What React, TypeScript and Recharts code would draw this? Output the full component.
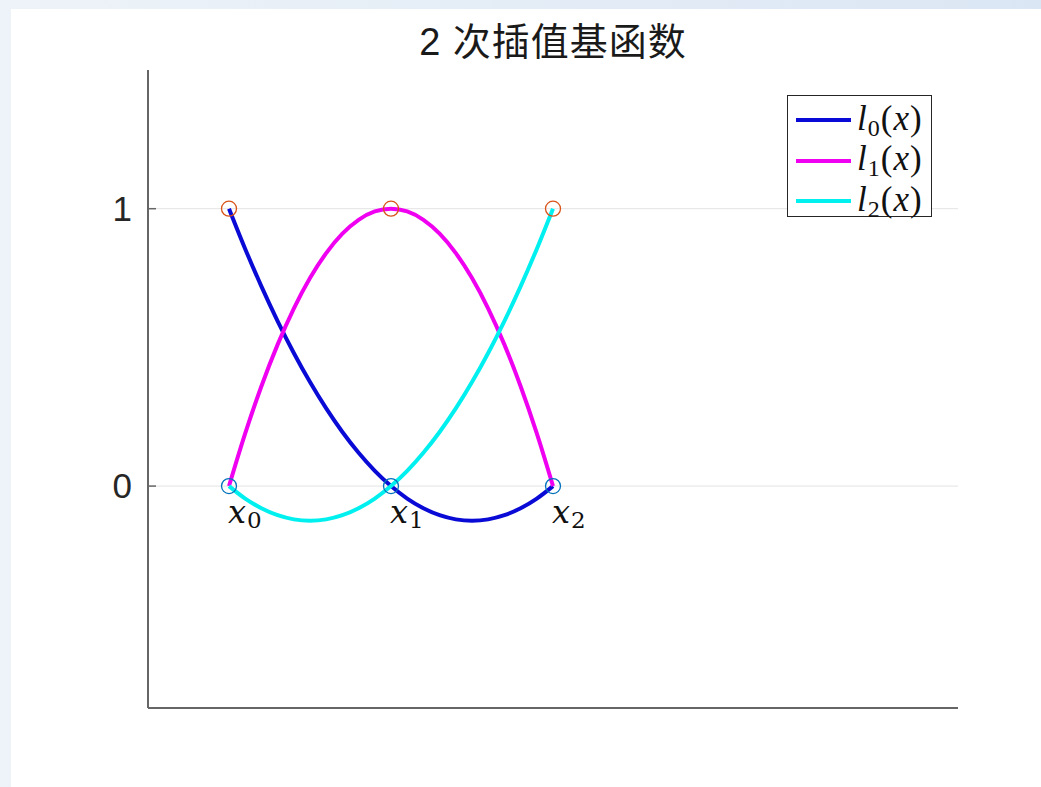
import React from 'react'
import {
  ComposedChart,
  Line,
  Scatter,
  XAxis,
  YAxis,
  CartesianGrid,
} from 'recharts'

// 插值节点
const nodeX = [0, 1, 2]
const nodeNames = ['0', '1', '2']

// 采样点（步长 0.1）
const sampleX = [
  0, 0.1, 0.2, 0.3, 0.4, 0.5, 0.6, 0.7, 0.8, 0.9, 1.0,
  1.1, 1.2, 1.3, 1.4, 1.5, 1.6, 1.7, 1.8, 1.9, 2.0,
]
const l0Values = [
  1, 0.855, 0.72, 0.595, 0.48, 0.375, 0.28, 0.195, 0.12, 0.055, 0,
  -0.045, -0.08, -0.105, -0.12, -0.125, -0.12, -0.105, -0.08, -0.045, 0,
]
const l1Values = [
  0, 0.19, 0.36, 0.51, 0.64, 0.75, 0.84, 0.91, 0.96, 0.99, 1,
  0.99, 0.96, 0.91, 0.84, 0.75, 0.64, 0.51, 0.36, 0.19, 0,
]
const l2Values = [
  0, -0.045, -0.08, -0.105, -0.12, -0.125, -0.12, -0.105, -0.08, -0.045, 0,
  0.055, 0.12, 0.195, 0.28, 0.375, 0.48, 0.595, 0.72, 0.855, 1,
]

const yTicks = [0, 1]
const title = '2 次插值基函数'

const series = [
  { key: 'l0', sub: '0', color: '#0a0ad6' },
  { key: 'l1', sub: '1', color: '#f000f0' },
  { key: 'l2', sub: '2', color: '#00f0f0' },
]

const curveData = sampleX.map((x, i) => ({
  x,
  l0: l0Values[i],
  l1: l1Values[i],
  l2: l2Values[i],
}))
const zeroNodes = nodeX.map((x, i) => ({ x, y: 0, name: nodeNames[i] }))
const oneNodes = nodeX.map((x) => ({ x, y: 1 }))

const W = 1041
const H = 787
const Y_AXIS_W = 60
const X_AXIS_H = 30
const margin = { top: 70, right: 83, bottom: 79 - X_AXIS_H, left: 148 - Y_AXIS_W }
const axisColor = '#666'
const textColor = '#262626'

const YTick = (props: any) => {
  const { x, y, payload } = props
  return (
    <g>
      <line x1={x} x2={x + 8} y1={y} y2={y} stroke={axisColor} strokeWidth={1.5} />
      <text
        x={x - 16}
        y={y + 12}
        textAnchor="end"
        fontSize={35}
        fill={textColor}
        fontFamily="'Liberation Sans', Arial, sans-serif"
      >
        {payload.value}
      </text>
    </g>
  )
}

const ringShape = (color: string) => (props: any) => (
  <circle cx={props.cx} cy={props.cy} r={7.5} fill="none" stroke={color} strokeWidth={1.3} />
)

// 节点圆圈 + 下方的 x_i 标注
const NodeWithLabel = (props: any) => {
  const { cx, cy, payload } = props
  return (
    <g>
      <circle cx={cx} cy={cy} r={7.5} fill="none" stroke="#0072BD" strokeWidth={1.3} />
      <text
        x={cx - 1}
        y={cy + 37}
        fontFamily="'DejaVu Serif', 'Liberation Serif', serif"
        fontSize={32}
        fill="#111"
      >
        <tspan fontStyle="italic">x</tspan>
        <tspan fontSize={23} dy={5} dx={1}>
          {payload.name}
        </tspan>
      </text>
    </g>
  )
}

function LegendBox() {
  return (
    <div
      style={{
        position: 'absolute',
        left: 787,
        top: 95,
        width: 143,
        height: 120,
        border: `1.5px solid ${textColor}`,
        background: '#fff',
        boxSizing: 'content-box',
      }}
    >
      {series.map((s, i) => (
        <div
          key={s.key}
          style={{
            position: 'absolute',
            left: 0,
            top: 7 + i * 40.5,
            height: 34,
            display: 'flex',
            alignItems: 'center',
          }}
        >
          <div style={{ marginLeft: 8, width: 55, height: 4, background: s.color }} />
          <span
            style={{
              marginLeft: 6,
              fontFamily: "'Liberation Serif', 'Times New Roman', serif",
              fontSize: 35,
              lineHeight: '34px',
              color: '#111',
              whiteSpace: 'nowrap',
              letterSpacing: 1,
            }}
          >
            <i>l</i>
            <span style={{ fontSize: 24, position: 'relative', top: 6 }}>{s.sub}</span>
            (<i>x</i>)
          </span>
        </div>
      ))}
    </div>
  )
}

export default function App() {
  return (
    <div
      style={{
        position: 'fixed',
        left: 0,
        top: 0,
        width: W,
        height: H,
        overflow: 'hidden',
        background: 'linear-gradient(to right, #edf3f8, #dbe6f4)',
      }}
    >
      <div
        style={{
          position: 'absolute',
          left: 11,
          top: 9,
          right: 0,
          bottom: 0,
          background: '#fff',
        }}
      />
      <div
        style={{
          position: 'absolute',
          left: margin.left + Y_AXIS_W,
          width: W - margin.left - Y_AXIS_W - margin.right,
          top: 20,
          textAlign: 'center',
          fontFamily: "'Liberation Sans', 'Noto Sans CJK SC', sans-serif",
          fontSize: 38,
          lineHeight: '44px',
          color: '#1a1a1a',
          letterSpacing: 1,
        }}
      >
        {title}
      </div>
      <div style={{ position: 'absolute', left: 0, top: 0 }}>
        <ComposedChart width={W} height={H} data={curveData} margin={margin}>
          <CartesianGrid
            horizontal
            vertical={false}
            horizontalValues={yTicks}
            stroke="#e3e3e3"
            strokeWidth={1}
          />
          <XAxis
            dataKey="x"
            type="number"
            domain={[-0.5, 4.5]}
            allowDataOverflow
            height={X_AXIS_H}
            tick={false}
            tickLine={false}
            axisLine={{ stroke: axisColor, strokeWidth: 2 }}
          />
          <YAxis
            type="number"
            domain={[-0.8, 1.5]}
            allowDataOverflow
            ticks={yTicks}
            width={Y_AXIS_W}
            tickSize={0}
            tickMargin={0}
            tickLine={false}
            tick={<YTick />}
            axisLine={{ stroke: axisColor, strokeWidth: 2 }}
          />
          <Scatter
            data={oneNodes}
            dataKey="y"
            shape={ringShape('#D95319')}
            isAnimationActive={false}
          />
          <Scatter
            data={zeroNodes}
            dataKey="y"
            shape={<NodeWithLabel />}
            isAnimationActive={false}
          />
          {series.map((s) => (
            <Line
              key={s.key}
              type="monotone"
              dataKey={s.key}
              stroke={s.color}
              strokeWidth={4}
              dot={false}
              activeDot={false}
              isAnimationActive={false}
            />
          ))}
        </ComposedChart>
      </div>
      <LegendBox />
    </div>
  )
}
